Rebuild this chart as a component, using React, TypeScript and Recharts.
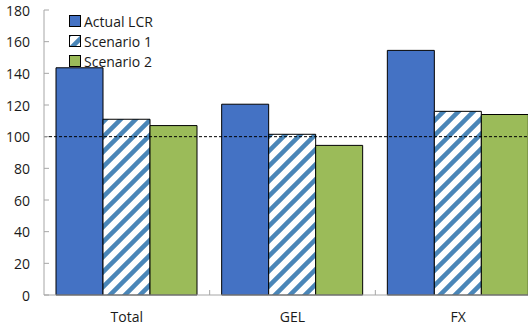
import { BarChart, Bar, XAxis, YAxis, ReferenceLine } from 'recharts'

const categories = ['Total', 'GEL', 'FX']
const actualLcr = [143.5, 120.5, 154.5]
const scenario1 = [111, 101.5, 116]
const scenario2 = [107, 94.5, 114]
const yTicks = [0, 20, 40, 60, 80, 100, 120, 140, 160, 180]
const threshold = 100

const seriesNames = ['Actual LCR', 'Scenario 1', 'Scenario 2']

const data = categories.map((name, i) => ({
  name,
  actual: actualLcr[i],
  s1: scenario1[i],
  s2: scenario2[i],
}))

// plot runs past the right edge, so the last bar is cut off
const W = 541
const H = 322
const Y_AXIS_W = 44
const MARGIN = { top: 10, right: 0, left: 0, bottom: 0 }
const X_AXIS_H = 27
const HALF_BAND = (W - Y_AXIS_W - MARGIN.right - MARGIN.left) / categories.length / 2

const FONT = '"Open Sans", "Noto Sans", sans-serif'
const AXIS = '#a6a6a6'
const BLUE = '#4472c4'
const GREEN = '#9bbb59'
const STRIPE = '#4a86b8'

function YTick(props: any) {
  const { x, y, payload } = props
  return (
    <g>
      <line x1={x + 14} x2={x + 19} y1={y} y2={y} stroke={AXIS} />
      <text x={x} y={y} textAnchor="end" dominantBaseline="central" fontSize={14} fontFamily={FONT} fill="#1a1a1a">
        {payload.value}
      </text>
    </g>
  )
}

// category labels plus short inward ticks on the band edges
function XTick(props: any) {
  const { x, y, payload } = props
  const axisY = y - 17
  return (
    <g>
      <line x1={x + HALF_BAND} x2={x + HALF_BAND} y1={axisY} y2={axisY - 5} stroke={AXIS} />
      <text x={x} y={y} dy="0.71em" textAnchor="middle" fontSize={14} fontFamily={FONT} fill="#1a1a1a">
        {payload.value}
      </text>
    </g>
  )
}

function StripePattern({ id }: { id: string }) {
  return (
    <pattern id={id} patternUnits="userSpaceOnUse" width={15} height={15}>
      <rect width={15} height={15} fill="#fff" />
      <path d="M-4,4 L4,-4 M0,15 L15,0 M11,19 L19,11" stroke={STRIPE} strokeWidth={4.5} />
    </pattern>
  )
}

function LegendBox() {
  const fills = [BLUE, 'url(#legendStripes)', GREEN]
  return (
    <div style={{ position: 'absolute', left: 69, top: 11, fontFamily: FONT, fontSize: 14, color: '#1a1a1a' }}>
      <svg width={0} height={0} style={{ position: 'absolute' }}>
        <defs>
          <StripePattern id="legendStripes" />
        </defs>
      </svg>
      {seriesNames.map((n, i) => (
        <div key={n} style={{ display: 'flex', alignItems: 'center', height: 20 }}>
          <svg width={12} height={12} style={{ marginRight: 3 }}>
            <rect x={0.5} y={0.5} width={11} height={11} fill={fills[i]} stroke="#000" />
          </svg>
          <span>{n}</span>
        </div>
      ))}
    </div>
  )
}

export default function App() {
  return (
    <div style={{ position: 'fixed', left: 0, top: 0, width: 528, height: H, overflow: 'hidden', background: '#fff' }}>
      <BarChart width={W} height={H} data={data} margin={MARGIN} barCategoryGap={12} barGap={0}>
        <defs>
          <StripePattern id="stripes" />
        </defs>
        <XAxis
          dataKey="name"
          height={X_AXIS_H}
          stroke={AXIS}
          tickLine={false}
          tickSize={0}
          tickMargin={17}
          tick={<XTick />}
          interval={0}
        />
        <YAxis
          width={Y_AXIS_W}
          domain={[0, 180]}
          ticks={yTicks}
          stroke={AXIS}
          tickLine={false}
          tickSize={0}
          tickMargin={14}
          tick={<YTick />}
          interval={0}
        />
        <Bar dataKey="actual" name={seriesNames[0]} fill={BLUE} stroke="#000" strokeWidth={1} isAnimationActive={false} />
        <Bar dataKey="s1" name={seriesNames[1]} fill="url(#stripes)" stroke="#000" strokeWidth={1} isAnimationActive={false} />
        <Bar dataKey="s2" name={seriesNames[2]} fill={GREEN} stroke="#000" strokeWidth={1} isAnimationActive={false} />
        <ReferenceLine y={threshold} stroke="#000" strokeDasharray="3 2" />
      </BarChart>
      <LegendBox />
    </div>
  )
}
